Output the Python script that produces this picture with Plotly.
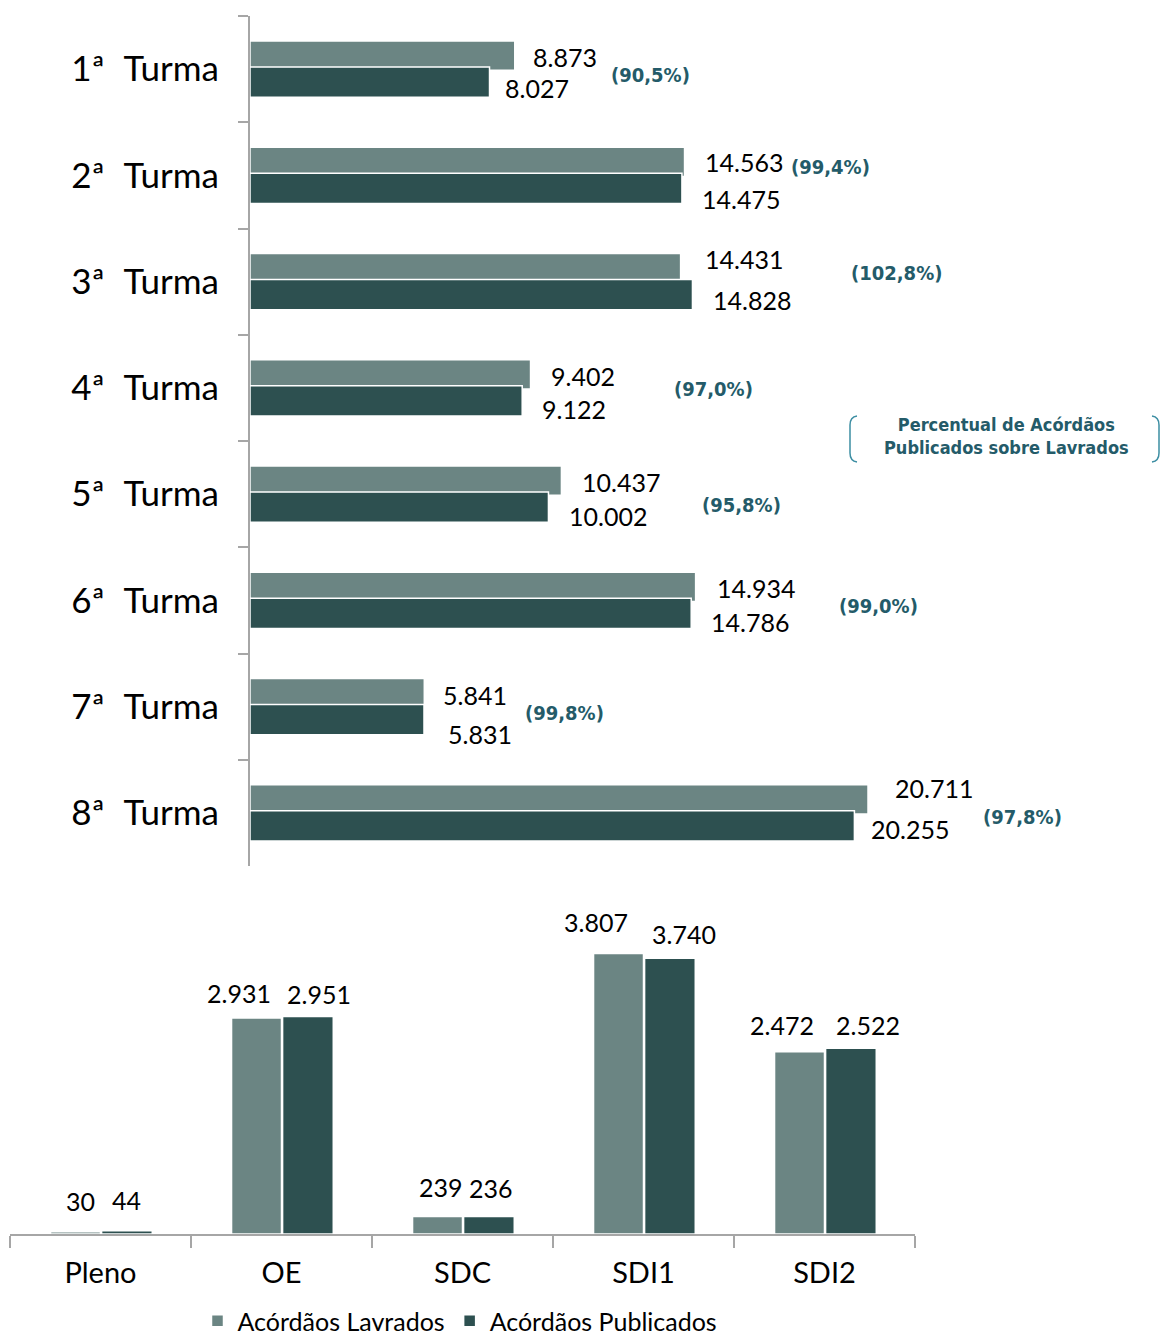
import plotly.graph_objects as go

W, H = 1161, 1340

# dados
turmas = ['1ª\u00a0\u200a Turma', '2ª\u00a0\u200a Turma', '3ª\u00a0\u200a Turma', '4ª\u00a0\u200a Turma',
          '5ª\u00a0\u200a Turma', '6ª\u00a0\u200a Turma', '7ª\u00a0\u200a Turma', '8ª\u00a0\u200a Turma']
turmas_lavrados = [8873, 14563, 14431, 9402, 10437, 14934, 5841, 20711]
turmas_publicados = [8027, 14475, 14828, 9122, 10002, 14786, 5831, 20255]

orgaos = ['Pleno', 'OE', 'SDC', 'SDI1', 'SDI2']
orgaos_lavrados = [30, 2931, 239, 3807, 2472]
orgaos_publicados = [44, 2951, 236, 3740, 2522]

GRAY = '#6b8583'
DARK = '#2d5050'
TEAL = '#245b69'
FONT = 'Lato'
NARROW = 'Liberation Sans Narrow, DejaVu Sans Condensed, Roboto'


def fmt(v):
    return f'{v:,}'.replace(',', '.')


def px_x(px):
    return px / W


def px_y(py):
    return 1 - py / H


fig = go.Figure()

# barras horizontais (turmas)
fig.add_trace(go.Bar(
    y=turmas, x=turmas_lavrados, orientation='h', name='Acórdãos Lavrados',
    marker=dict(color=GRAY, line=dict(color='white', width=1.5)),
    offset=-0.265, width=0.275, xaxis='x', yaxis='y', showlegend=False))
fig.add_trace(go.Bar(
    y=turmas, x=turmas_publicados, orientation='h', name='Acórdãos Publicados',
    marker=dict(color=DARK, line=dict(color='white', width=1.5)),
    offset=-0.02, width=0.285, xaxis='x', yaxis='y', showlegend=False))

# barras verticais (orgaos)
fig.add_trace(go.Bar(
    x=orgaos, y=orgaos_lavrados, name='Acórdãos Lavrados',
    marker=dict(color=GRAY, line=dict(color='white', width=1.5)),
    offset=-0.276, width=0.276, xaxis='x2', yaxis='y2'))
fig.add_trace(go.Bar(
    x=orgaos, y=orgaos_publicados, name='Acórdãos Publicados',
    marker=dict(color=DARK, line=dict(color='white', width=1.5)),
    offset=0.006, width=0.28, xaxis='x2', yaxis='y2'))

ann = []

# rótulos de valor - turmas
lav_dx = [16, 18, 22, 18, 19, 19, 17, 25]
lav_dy = [-12, -13, -23, -12, -12, -12, -12, -25]
pub_dx = [13, 18, 19, 18, 19, 18, 22, 15]
pub_dy = [19, 24, 18, 21, 22, 22, 27, 16]
for i, t in enumerate(turmas):
    ann.append(dict(x=turmas_lavrados[i], y=t, xref='x', yref='y',
                    text=fmt(turmas_lavrados[i]), showarrow=False,
                    xanchor='left', xshift=lav_dx[i], yshift=-lav_dy[i],
                    font=dict(family=FONT, size=25, color='black')))
    ann.append(dict(x=turmas_publicados[i], y=t, xref='x', yref='y',
                    text=fmt(turmas_publicados[i]), showarrow=False,
                    xanchor='left', xshift=pub_dx[i], yshift=-pub_dy[i],
                    font=dict(family=FONT, size=25, color='black')))

# percentuais
pct_dx = [136, 146, 204, 183, 180, 183, 140, 154]
pct_dy = [6, -8, -9, 1, 11, 6, 6, 4]
for i, t in enumerate(turmas):
    pct = turmas_publicados[i] / turmas_lavrados[i] * 100
    txt = '(' + f'{pct:.1f}'.replace('.', ',') + '%)'
    ann.append(dict(x=max(turmas_lavrados[i], turmas_publicados[i]), y=t,
                    xref='x', yref='y', text='<b>' + txt + '</b>',
                    showarrow=False, xanchor='center',
                    xshift=pct_dx[i], yshift=-pct_dy[i],
                    font=dict(family=NARROW, size=20, color=TEAL)))

# rótulos de valor - orgaos
o_lav_dx = [-20, -43, -22, -48, -43]
o_lav_dy = [14, 8, 12, 14, 10]
o_pub_dx = [26, 37, 28, 40, 43]
o_pub_dy = [14, 6, 12, 7, 6]
for i, o in enumerate(orgaos):
    ann.append(dict(x=o, y=orgaos_lavrados[i], xref='x2', yref='y2',
                    text=fmt(orgaos_lavrados[i]), showarrow=False,
                    xanchor='center', yanchor='bottom',
                    xshift=o_lav_dx[i], yshift=o_lav_dy[i],
                    font=dict(family=FONT, size=25, color='black')))
    ann.append(dict(x=o, y=orgaos_publicados[i], xref='x2', yref='y2',
                    text=fmt(orgaos_publicados[i]), showarrow=False,
                    xanchor='center', yanchor='bottom',
                    xshift=o_pub_dx[i], yshift=o_pub_dy[i],
                    font=dict(family=FONT, size=25, color='black')))

# caixa explicativa
ann.append(dict(x=px_x(1006), y=px_y(436), xref='paper', yref='paper',
                text='<b>Percentual de Acórdãos<br>Publicados sobre Lavrados</b>',
                showarrow=False, xanchor='center', yanchor='middle',
                font=dict(family=NARROW, size=18, color=TEAL)))

shapes = [
    dict(type='path', xref='paper', yref='paper',
         path=f'M {px_x(857)} {px_y(416)} Q {px_x(850)} {px_y(417)} {px_x(850)} {px_y(425)} '
              f'L {px_x(850)} {px_y(453)} Q {px_x(850)} {px_y(461)} {px_x(857)} {px_y(462)}',
         line=dict(color='#3d8ea3', width=1.5)),
    dict(type='path', xref='paper', yref='paper',
         path=f'M {px_x(1152)} {px_y(416)} Q {px_x(1159)} {px_y(417)} {px_x(1159)} {px_y(425)} '
              f'L {px_x(1159)} {px_y(453)} Q {px_x(1159)} {px_y(461)} {px_x(1152)} {px_y(462)}',
         line=dict(color='#3d8ea3', width=1.5)),
]

fig.update_layout(
    width=W, height=H,
    margin=dict(l=0, r=0, t=0, b=0, autoexpand=False),
    paper_bgcolor='white', plot_bgcolor='white',
    barmode='overlay',
    font=dict(family=FONT, color='black'),
    annotations=ann,
    shapes=shapes,
    xaxis=dict(domain=[px_x(250), 1.0], range=[0, 30530], visible=False,
               anchor='y'),
    yaxis=dict(domain=[px_y(866), px_y(16)], type='category',
               autorange='reversed', anchor='x',
               showline=True, linecolor='#a6a6a6', linewidth=2,
               ticks='outside', ticklen=10, tickcolor='#a6a6a6', tickwidth=2,
               tickson='boundaries', ticklabelstandoff=22,
               tickfont=dict(family=FONT, size=35, color='black'),
               showgrid=False, zeroline=False),
    xaxis2=dict(domain=[px_x(10), px_x(915)], type='category', anchor='y2',
                showline=True, linecolor='#a6a6a6', linewidth=2,
                ticks='outside', ticklen=12, tickcolor='#a6a6a6', tickwidth=2,
                tickson='boundaries', ticklabelstandoff=12,
                tickfont=dict(family=FONT, size=29, color='black'),
                showgrid=False, zeroline=False),
    yaxis2=dict(domain=[px_y(1234), px_y(900)], range=[0, 4532],
                visible=False, anchor='x2'),
    legend=dict(orientation='h', x=px_x(460), xanchor='center',
                y=px_y(1321), yanchor='middle',
                font=dict(family=FONT, size=25, color='black'),
                itemwidth=30, bgcolor='rgba(0,0,0,0)'),
)

fig.write_html('out.html', config={'displayModeBar': False},
               post_script="document.body.style.margin='0';")
